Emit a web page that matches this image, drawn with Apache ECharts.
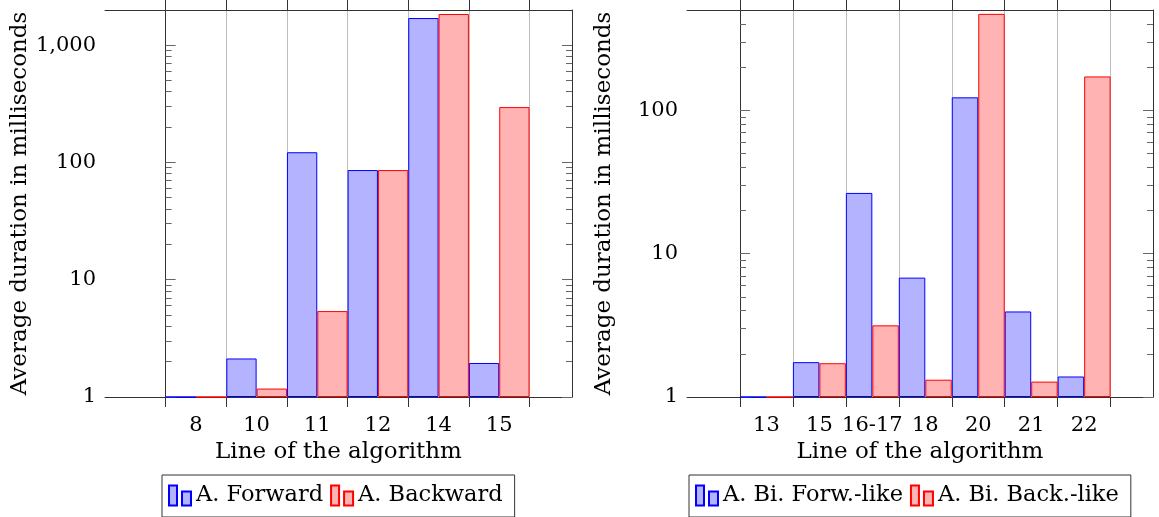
<!DOCTYPE html>
<html><head><meta charset="utf-8">
<script src="https://cdn.jsdelivr.net/npm/echarts@6/dist/echarts.min.js"></script>
<style>html,body{margin:0;padding:0;background:#fff}#c{width:1159px;height:517px}</style>
</head><body><div id="c"></div>
<script>
// ---------- data ----------
const leftCategories = ['8', '10', '11', '12', '14', '15'];
const leftForward = [1, 2.13, 122, 86, 1700, 1.95];
const leftBackward = [1, 1.18, 5.4, 86, 1840, 296];
const rightCategories = ['13', '15', '16-17', '18', '20', '21', '22'];
const rightForward = [1, 1.75, 26.5, 6.8, 123, 3.95, 1.39];
const rightBackward = [1, 1.72, 3.16, 1.32, 470, 1.28, 172];
const leftMajorTicks = [1, 10, 100, 1000];
const leftMinorTicks = [2, 3, 4, 5, 6, 7, 8, 9, 20, 30, 40, 50, 60, 70, 80, 90, 200, 300, 400, 500, 600, 700, 800, 900];
const rightMajorTicks = [1, 10, 100];
const rightMinorTicks = [2, 3, 4, 5, 6, 7, 8, 9, 20, 30, 40, 50, 60, 70, 80, 90, 200, 300, 400];
const leftNames = ['A. Forward', 'A. Backward'];
const rightNames = ['A. Bi. Forw.-like', 'A. Bi. Back.-like'];
const xTitle = 'Line of the algorithm';
const yTitle = 'Average duration in milliseconds';

// ---------- styles ----------
const FONT = '"DejaVu Serif", "Liberation Serif", serif';
const FS = 21;
const FS_TITLE = 23;
const FS_LEGEND = 22.5;
const BLUE = {color: '#b3b3ff', borderColor: '#0000ff', borderWidth: 1};
const RED = {color: '#ffb3b3', borderColor: '#ff0000', borderWidth: 1};
const FRAME = '#333';
const TICK = '#666';
const ICON = 'path://M0,0h8v20h-8z M13,6h9v14h-9z';

const panels = [
  {grid: {left: 105, top: 10, width: 467, height: 387}, xMin: -1, xMax: 6.7, yMax: 1990,
   cats: leftCategories, f: leftForward, b: leftBackward, major: leftMajorTicks, minor: leftMinorTicks,
   names: leftNames, legendLeft: 162},
  {grid: {left: 687, top: 10, width: 466, height: 387}, xMin: -1, xMax: 7.8, yMax: 500,
   cats: rightCategories, f: rightForward, b: rightBackward, major: rightMajorTicks, minor: rightMinorTicks,
   names: rightNames, legendLeft: 689}
];

const option = {animation: false, backgroundColor: '#fff', grid: [], xAxis: [], yAxis: [], series: [], legend: []};

panels.forEach((p, gi) => {
  option.grid.push(Object.assign({outerBoundsMode: 'none', containLabel: false}, p.grid));
  const bounds = p.cats.map((c, i) => i).concat([p.cats.length]);
  const centers = p.cats.map((c, i) => i + 0.5);
  const cats = p.cats;
  const xi = option.xAxis.length;
  option.xAxis.push({
    type: 'value', gridIndex: gi, position: 'bottom', min: p.xMin, max: p.xMax,
    name: xTitle, nameLocation: 'middle', nameGap: 44,
    nameTextStyle: {fontFamily: FONT, fontSize: FS_TITLE, color: '#000'},
    axisLine: {show: true, lineStyle: {color: FRAME, width: 1}},
    axisTick: {show: true, inside: false, length: 10, customValues: bounds, lineStyle: {color: FRAME}},
    axisLabel: {show: true, customValues: centers, margin: 18, fontFamily: FONT, fontSize: FS, color: '#000',
      formatter: v => cats[Math.floor(v)] || ''},
    splitLine: {show: true, lineStyle: {color: '#bdbdbd', width: 1}}
  });
  option.xAxis.push({
    type: 'value', gridIndex: gi, position: 'top', min: p.xMin, max: p.xMax,
    axisLine: {show: true, lineStyle: {color: FRAME, width: 1}},
    axisTick: {show: true, inside: false, length: 10, customValues: bounds, lineStyle: {color: FRAME}},
    axisLabel: {show: false}, splitLine: {show: false}
  });
  const yi = option.yAxis.length;
  const logBase = {type: 'log', logBase: 10, gridIndex: gi, min: 1, max: p.yMax, splitLine: {show: false}};
  option.yAxis.push(Object.assign({}, logBase, {
    position: 'left',
    name: yTitle, nameLocation: 'middle', nameGap: 71, nameRotate: 90,
    nameTextStyle: {fontFamily: FONT, fontSize: FS_TITLE, color: '#000'},
    axisLine: {show: true, lineStyle: {color: FRAME, width: 1}},
    axisTick: {show: true, inside: true, length: 10, customValues: p.major, lineStyle: {color: TICK}},
    axisLabel: {show: true, customValues: p.major, margin: 9, fontFamily: FONT, fontSize: FS, color: '#000',
      formatter: v => Number(v).toLocaleString('en-US')}
  }));
  option.yAxis.push(Object.assign({}, logBase, {
    position: 'left',
    axisLine: {show: false},
    axisTick: {show: true, inside: true, length: 6, customValues: p.minor, lineStyle: {color: TICK}},
    axisLabel: {show: false}
  }));
  option.yAxis.push(Object.assign({}, logBase, {
    position: 'right',
    axisLine: {show: true, lineStyle: {color: FRAME, width: 1}},
    axisTick: {show: true, inside: true, length: 10, customValues: p.major, lineStyle: {color: TICK}},
    axisLabel: {show: false}
  }));
  option.yAxis.push(Object.assign({}, logBase, {
    position: 'right',
    axisLine: {show: false},
    axisTick: {show: true, inside: true, length: 6, customValues: p.minor, lineStyle: {color: TICK}},
    axisLabel: {show: false}
  }));
  const bw = p.grid.width / (p.xMax - p.xMin) / 2;
  [[p.f, BLUE, 0.25, p.names[0]], [p.b, RED, 0.75, p.names[1]]].forEach(([vals, st, off, nm]) => {
    option.series.push({
      type: 'bar', name: nm, xAxisIndex: xi, yAxisIndex: yi,
      barWidth: bw, barGap: '-100%',
      itemStyle: st, emphasis: {disabled: true},
      data: vals.map((v, i) => [i + off, v])
    });
  });
  option.legend.push({
    data: p.names, left: p.legendLeft, top: 475, orient: 'horizontal',
    icon: ICON, itemWidth: 22, itemHeight: 20, itemGap: 7,
    padding: [9, 12, 10, 6], borderColor: FRAME, borderWidth: 1, borderRadius: 0,
    textStyle: {fontFamily: FONT, fontSize: FS_LEGEND, color: '#000'},
    selectedMode: false
  });
});

const chart = echarts.init(document.getElementById('c'), null, {renderer: 'canvas'});
chart.setOption(option);
</script>
</body></html>
